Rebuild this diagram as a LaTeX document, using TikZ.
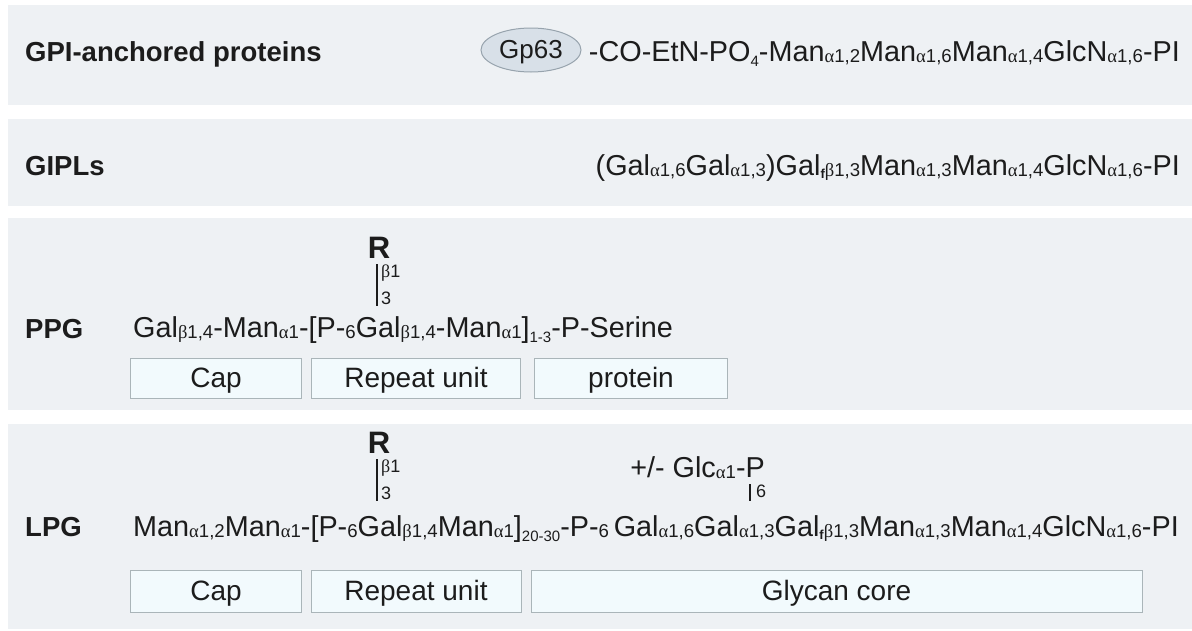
\documentclass[tikz,border=0pt]{standalone}
\usepackage{fontspec}
\setmainfont{Liberation Sans}
\newfontfamily\grk{Liberation Serif}
\usetikzlibrary{shapes.geometric}

\definecolor{panelbg}{HTML}{EEF1F4}
\definecolor{boxbg}{HTML}{F2FAFD}
\definecolor{boxline}{HTML}{AAB5B9}
\definecolor{ellbg}{HTML}{D8E0E8}
\definecolor{ellline}{HTML}{97A3AD}
\definecolor{ink}{HTML}{1C1C1C}

% upright Greek letters for anomeric configurations
\newcommand\al{{\grk α}}
\newcommand\be{{\grk β}}
% linkage subscripts, bracket indices and the furanose mark
\newcommand\ls[1]{\raisebox{-1.5pt}{\fontsize{18.6}{18.6}\selectfont #1}}
\newcommand\li[1]{\raisebox{-5pt}{\fontsize{15}{15}\selectfont #1}}
\newcommand\fu{\raisebox{-3pt}{\fontsize{13}{13}\selectfont\bfseries f}}

\tikzset{
  panel/.style={fill=panelbg, draw=none},
  rowlabel/.style={font=\fontsize{27.5}{27.5}\selectfont\bfseries, text=ink, inner sep=0pt, anchor=base west},
  chain/.style={font=\fontsize{28.8}{28.8}\selectfont, text=ink, inner sep=0pt},
  part/.style={draw=boxline, fill=boxbg, line width=1pt, inner sep=0pt, text=ink,
    text height=21pt, text depth=2pt, font=\fontsize{28}{28}\selectfont},
  branch/.style={font=\fontsize{31}{31}\selectfont\bfseries, text=ink, inner sep=0pt, anchor=base},
  linkpos/.style={font=\fontsize{18}{18}\selectfont, text=ink, inner sep=0pt, anchor=west},
  bond/.style={draw=ink, line width=1.3pt}
}

\begin{document}
\begin{tikzpicture}[x=1pt,y=-1pt]
\useasboundingbox (0,0) rectangle (1192,630);
\fill[white] (0,0) rectangle (1192,630);

% background bands
\fill[panel] (8,5) rectangle (1192,105);
\fill[panel] (8,119) rectangle (1192,206);
\fill[panel] (8,218) rectangle (1192,410);
\fill[panel] (8,424) rectangle (1192,629);

% GPI-anchored proteins
\node[rowlabel] (lgpi) at (25,61) {GPI-anchored proteins};
\node[chain, anchor=base east] (cgpi) at (1180,61)
  {-CO-EtN-PO\li{4}-Man\ls{\al1,2}Man\ls{\al1,6}Man\ls{\al1,4}GlcN\ls{\al1,6}-PI};
\node[ellipse, draw=ellline, fill=ellbg, line width=1pt, minimum width=100, minimum height=44,
  inner sep=0pt, text height=19pt, text depth=2pt, font=\fontsize{26}{26}\selectfont, text=ink]
  (gp63) at (531,50) {Gp63};

% GIPLs
\node[rowlabel] (lgipl) at (25,175) {GIPLs};
\node[chain, anchor=base east] (cgipl) at (1180,175)
  {(Gal\ls{\al1,6}Gal\ls{\al1,3})Gal\fu\ls{\be1,3}Man\ls{\al1,3}Man\ls{\al1,4}GlcN\ls{\al1,6}-PI};

% PPG
\node[rowlabel] (lppg) at (25,338) {PPG};
\node[chain, anchor=base west] (cppg) at (133,337)
  {Gal\ls{\be1,4}-Man\ls{\al1}-[P-\ls{6}Gal\ls{\be1,4}-Man\ls{\al1}]\li{1-3}-P-Serine};
\node[branch] (rppg) at (379,258) {R};
\coordinate (pa) at (377,264);
\coordinate (pb) at (377,306);
\draw[bond] (pa) -- (pb);
\node[linkpos] (bppg) at (381,273) {\be1};
\node[linkpos] (nppg) at (381,298) {3};
\node[part, minimum width=171, minimum height=40] (capppg) at (216,378) {Cap};
\node[part, minimum width=209, minimum height=40] (repppg) at (416,378) {Repeat unit};
\node[part, minimum width=193, minimum height=40] (proppg) at (631,378) {protein};

% LPG
\node[rowlabel] (llpg) at (25,536) {LPG};
\node[chain, anchor=base west] (clpg) at (133,536)
  {Man\ls{\al1,2}Man\ls{\al1}-[P-\ls{6}Gal\ls{\be1,4}Man\ls{\al1}]\li{20-30}-P-\ls{6}\,Gal\ls{\al1,6}Gal\ls{\al1,3}Gal\fu\ls{\be1,3}Man\ls{\al1,3}Man\ls{\al1,4}GlcN\ls{\al1,6}-PI};
\node[branch] (rlpg) at (379,453) {R};
\coordinate (la) at (377,459);
\coordinate (lb) at (377,501);
\draw[bond] (la) -- (lb);
\node[linkpos] (blpg) at (381,468) {\be1};
\node[linkpos] (nlpg) at (381,493) {3};
\node[chain, anchor=base east] (glc) at (765,477) {+/- Glc\ls{\al1}-P};
\coordinate (ga) at (750,484);
\coordinate (gb) at (750,501);
\draw[bond] (ga) -- (gb);
\node[linkpos] (nglc) at (756,491) {6};
\node[part, minimum width=171, minimum height=42] (caplpg) at (216,591) {Cap};
\node[part, minimum width=210, minimum height=42] (replpg) at (416,591) {Repeat unit};
\node[part, minimum width=611, minimum height=42] (corelpg) at (836.5,591) {Glycan core};
\end{tikzpicture}
\end{document}
